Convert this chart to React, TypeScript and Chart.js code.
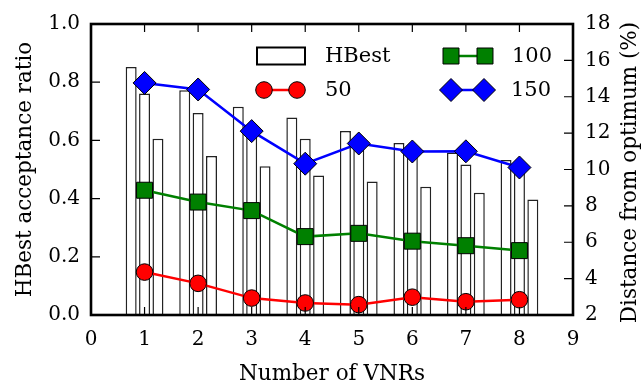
import { useEffect, useRef } from 'react';
import { Chart, registerables } from 'chart.js';

Chart.register(...registerables);

// ---------- data ----------
const vnrCounts = [1, 2, 3, 4, 5, 6, 7, 8];
const hbestA = [0.852, 0.772, 0.716, 0.679, 0.632, 0.591, 0.558, 0.533];
const hbestB = [0.761, 0.694, 0.62, 0.606, 0.59, 0.565, 0.517, 0.52];
const hbestC = [0.606, 0.546, 0.511, 0.479, 0.459, 0.441, 0.42, 0.397];
const dist50 = [4.36, 3.74, 2.93, 2.66, 2.57, 2.98, 2.73, 2.84];
const dist100 = [8.86, 8.21, 7.74, 6.31, 6.49, 6.06, 5.81, 5.54];
const dist150 = [14.76, 14.4, 12.11, 10.32, 11.43, 10.99, 11.0, 10.11];

const xTicks = [0, 1, 2, 3, 4, 5, 6, 7, 8, 9];
const leftTicks = [0, 0.2, 0.4, 0.6, 0.8, 1.0];
const rightTicks = [2, 4, 6, 8, 10, 12, 14, 16, 18];

const legendLabels = ['HBest', '50', '100', '150'];
const xTitle = 'Number of VNRs';
const leftTitle = 'HBest acceptance ratio';
const rightTitle = 'Distance from optimum (%)';

const FONT = '"DejaVu Serif", serif';

const toPts = (ys: number[]) => vnrCounts.map((x, i) => ({ x, y: ys[i] }));

function drawMarker(ctx: CanvasRenderingContext2D, style: string, x: number, y: number, r: number, fill: string) {
  ctx.beginPath();
  if (style === 'circle') {
    ctx.arc(x, y, r, 0, Math.PI * 2);
  } else if (style === 'rect') {
    const s = Math.SQRT1_2 * r;
    ctx.rect(x - s, y - s, 2 * s, 2 * s);
  } else {
    ctx.moveTo(x - r, y);
    ctx.lineTo(x, y - r);
    ctx.lineTo(x + r, y);
    ctx.lineTo(x, y + r);
    ctx.closePath();
  }
  ctx.fillStyle = fill;
  ctx.fill();
  ctx.lineWidth = 1;
  ctx.strokeStyle = '#000';
  ctx.stroke();
}

const framePlugin = {
  id: 'frame',
  afterDatasetsDraw(chart: any) {
    const { ctx, chartArea: a, scales } = chart;
    ctx.save();
    ctx.strokeStyle = '#000';
    ctx.lineWidth = 1.2;
    const tl = 8;
    ctx.beginPath();
    xTicks.forEach((v) => {
      const px = scales.x.getPixelForValue(v);
      ctx.moveTo(px, a.top);
      ctx.lineTo(px, a.top + tl);
      ctx.moveTo(px, a.bottom);
      ctx.lineTo(px, a.bottom - tl);
    });
    leftTicks.forEach((v) => {
      const py = scales.y.getPixelForValue(v);
      ctx.moveTo(a.left, py);
      ctx.lineTo(a.left + tl + 1, py);
    });
    rightTicks.forEach((v) => {
      const py = scales.y2.getPixelForValue(v);
      ctx.moveTo(a.right, py);
      ctx.lineTo(a.right - tl - 1, py);
    });
    ctx.stroke();
    ctx.lineWidth = 2.6;
    ctx.strokeRect(a.left, a.top, a.right - a.left, a.bottom - a.top);

    // legend
    const ds = chart.data.datasets;
    ctx.font = `21px ${FONT}`;
    ctx.fillStyle = '#000';
    ctx.textBaseline = 'middle';
    ctx.textAlign = 'left';
    const c1 = a.left + 166;
    const c2 = a.left + 360;
    const r1 = a.top + 32;
    const r2 = a.top + 66;
    ctx.fillStyle = '#fff';
    ctx.fillRect(c1, r1 - 8.5, 48, 17);
    ctx.lineWidth = 2;
    ctx.strokeStyle = '#000';
    ctx.strokeRect(c1, r1 - 8.5, 48, 17);
    ctx.fillStyle = '#000';
    ctx.fillText(legendLabels[0], c1 + 68, r1 + 1);
    const lineItems = [
      { d: ds[3], x0: c1 + 7, x1: c1 + 40, y: r2, label: legendLabels[1] },
      { d: ds[4], x0: c2, x1: c2 + 34, y: r1, label: legendLabels[2] },
      { d: ds[5], x0: c2, x1: c2 + 33, y: r2, label: legendLabels[3] },
    ];
    lineItems.forEach((it) => {
      ctx.beginPath();
      ctx.strokeStyle = it.d.borderColor;
      ctx.lineWidth = 2.5;
      ctx.moveTo(it.x0, it.y);
      ctx.lineTo(it.x1, it.y);
      ctx.stroke();
      drawMarker(ctx, it.d.pointStyle, it.x0, it.y, it.d.pointRadius, it.d.backgroundColor);
      drawMarker(ctx, it.d.pointStyle, it.x1, it.y, it.d.pointRadius, it.d.backgroundColor);
      ctx.fillStyle = '#000';
      ctx.fillText(it.label, it.x1 + (it === lineItems[0] ? 28 : 27), it.y + 1);
    });

    // right axis title, reading bottom-to-top
    ctx.save();
    ctx.translate(chart.width - 12, (a.top + a.bottom) / 2 + 3);
    ctx.rotate(-Math.PI / 2);
    ctx.font = `21.5px ${FONT}`;
    ctx.textAlign = 'center';
    ctx.textBaseline = 'middle';
    ctx.fillStyle = '#000';
    ctx.fillText(rightTitle, 0, 0);
    ctx.restore();
    ctx.restore();
  },
};

export default function App() {
  const ref = useRef<HTMLCanvasElement>(null);
  useEffect(() => {
    if (!ref.current) return;
    const barStyle = {
      type: 'bar' as const,
      yAxisID: 'y',
      backgroundColor: '#ffffff',
      borderColor: '#222',
      borderWidth: 1.5,
      categoryPercentage: 0.75,
      barPercentage: 0.82,
      order: 10,
    };
    const lineStyle = (color: string, style: string, r: number, order: number) => ({
      type: 'line' as const,
      yAxisID: 'y2',
      borderColor: color,
      backgroundColor: color,
      borderWidth: 2.5,
      pointStyle: style,
      pointRadius: r,
      pointBorderColor: '#000',
      pointBorderWidth: 1,
      pointBackgroundColor: color,
      tension: 0,
      order,
    });
    const chart = new Chart(ref.current, {
      type: 'bar',
      data: {
        datasets: [
          { ...barStyle, label: 'HBest', data: toPts(hbestA) },
          { ...barStyle, label: 'HBest', data: toPts(hbestB) },
          { ...barStyle, label: 'HBest', data: toPts(hbestC) },
          { ...lineStyle('#ff0000', 'circle', 8.3, 3), label: '50', data: toPts(dist50) },
          { ...lineStyle('#008000', 'rect', 11.3, 2), label: '100', data: toPts(dist100) },
          { ...lineStyle('#0000ff', 'rectRot', 11.5, 1), label: '150', data: toPts(dist150) },
        ] as any,
      },
      options: {
        animation: false,
        responsive: false,
        layout: { padding: { top: 17, left: 0, right: 0, bottom: 0 } },
        plugins: { legend: { display: false }, tooltip: { enabled: false } },
        scales: {
          x: {
            type: 'linear',
            min: 0,
            max: 9,
            offset: false,
            grid: { display: false, offset: false, drawTicks: false },
            border: { display: false },
            ticks: { stepSize: 1, color: '#000', font: { family: FONT, size: 20 }, padding: 13, maxRotation: 0 },
            title: { display: true, text: xTitle, color: '#000', font: { family: FONT, size: 21.5 }, padding: { top: 0, bottom: 1 } },
            afterFit: (s: any) => { s.height = 73; },
          },
          y: {
            type: 'linear',
            position: 'left',
            min: 0,
            max: 1,
            grid: { display: false, drawTicks: false },
            border: { display: false },
            ticks: { stepSize: 0.2, color: '#000', font: { family: FONT, size: 20 }, padding: 11, callback: (v: any) => Number(v).toFixed(1) },
            title: { display: true, text: leftTitle, color: '#000', font: { family: FONT, size: 21.5 }, padding: { top: 13, bottom: 0 } },
            afterFit: (s: any) => { s.width = 91; },
          },
          y2: {
            type: 'linear',
            position: 'right',
            min: 2,
            max: 18,
            grid: { display: false, drawTicks: false },
            border: { display: false },
            ticks: { stepSize: 2, color: '#000', font: { family: FONT, size: 20 }, padding: 12 },
            title: { display: false, text: rightTitle },
            afterFit: (s: any) => { s.width = 69; },
          },
        },
      } as any,
      plugins: [framePlugin],
    });
    return () => chart.destroy();
  }, []);
  return (
    <div style={{ position: 'fixed', left: 0, top: 0, width: 642, height: 388, background: '#fff' }}>
      <canvas ref={ref} width={642} height={388} style={{ display: 'block' }} />
    </div>
  );
}
